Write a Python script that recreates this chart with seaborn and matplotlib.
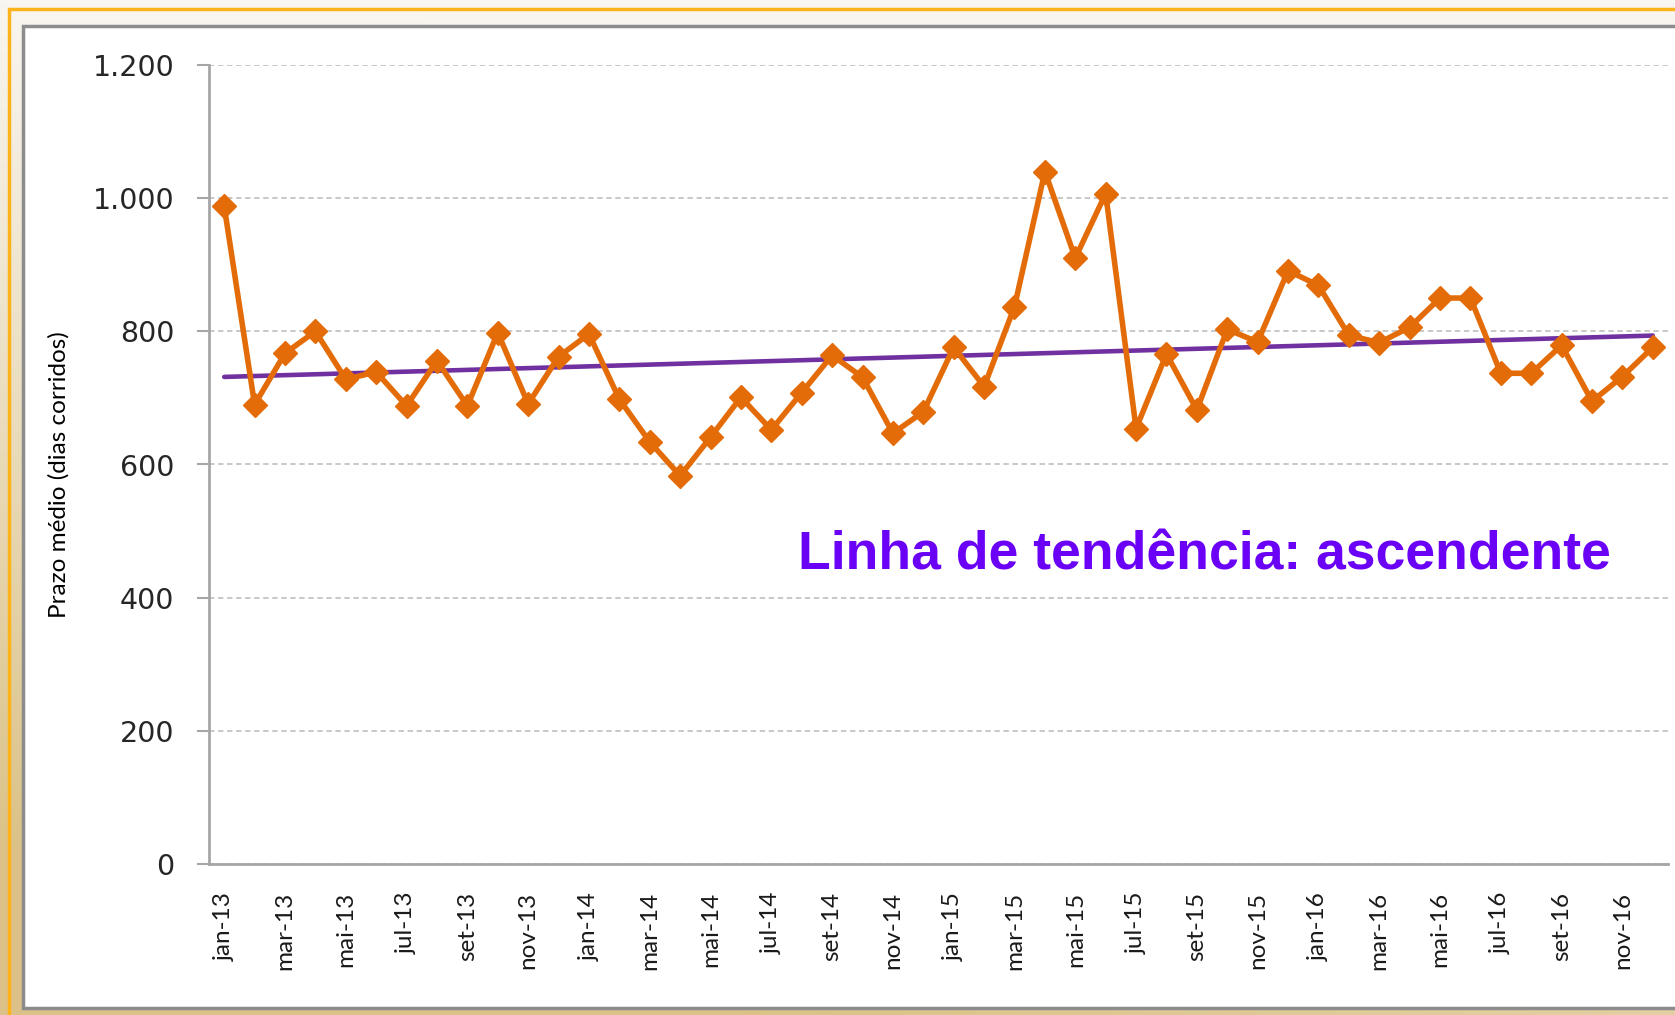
import numpy as np
import pandas as pd
import matplotlib.pyplot as plt
import seaborn as sns
from matplotlib.patches import Rectangle

# Prazo medio mensal (dias corridos), jan-13 .. dez-16
months = ["jan", "fev", "mar", "abr", "mai", "jun", "jul", "ago", "set", "out", "nov", "dez"]
years = ["13", "14", "15", "16"]
prazo_2013 = [988, 690, 767, 800, 728, 739, 688, 756, 688, 798, 691, 762]
prazo_2014 = [796, 698, 634, 583, 641, 701, 652, 708, 764, 731, 647, 679]
prazo_2015 = [776, 717, 837, 1040, 910, 1007, 654, 766, 682, 803, 784, 891]
prazo_2016 = [869, 794, 783, 806, 850, 850, 737, 737, 779, 695, 732, 776]

y_ticks = [0, 200, 400, 600, 800, 1000, 1200]
y_tick_labels = ["0", "200", "400", "600", "800", "1.000", "1.200"]

month_labels = [m + "-" + y for y in years for m in months]
prazo = prazo_2013 + prazo_2014 + prazo_2015 + prazo_2016
df = pd.DataFrame({"mes": month_labels, "idx": np.arange(len(prazo)), "prazo": prazo})

orange = "#E36C09"
purple = "#7030A0"

sns.set_style("white")
plt.rcParams["font.family"] = ["Lato", "DejaVu Sans"]

W, H = 1675, 1015
fig = plt.figure(figsize=(W / 100, H / 100), dpi=100)

# background frame gradient
bg = fig.add_axes([0, 0, 1, 1], zorder=-10)
gx = np.linspace(0, 1, 256)
gy = np.linspace(0, 1, 256)
GX, GY = np.meshgrid(gx, gy)
t = np.clip(0.75 * GY + 0.45 * (1 - GX) * GY, 0, 1)
c0 = np.array([0.975, 0.965, 0.945])
c1 = np.array([0.86, 0.76, 0.53])
img = c0[None, None, :] * (1 - t[..., None]) + c1[None, None, :] * t[..., None]
bg.imshow(img, extent=[0, 1, 0, 1], aspect="auto", origin="upper")
bg.set_axis_off()

# orange frame line and white panel
fig.add_artist(Rectangle((9 / W, -0.1), 1.2, 1 - 9 / H + 0.1, transform=fig.transFigure,
                         facecolor="none", edgecolor="#FFB31A", lw=2.5, zorder=-5))
fig.add_artist(Rectangle((23 / W, 1 - 1008 / H), 1.2, (1008 - 26) / H, transform=fig.transFigure,
                         facecolor="white", edgecolor="#8C8C8C", lw=2.5, zorder=-4))

ax = fig.add_axes([209 / W, 1 - 864 / H, (1668 - 209) / W, (864 - 65) / H])
ax.set_facecolor("none")

sns.regplot(data=df, x="idx", y="prazo", scatter=False, ci=None, truncate=True, ax=ax,
            line_kws=dict(color=purple, lw=3.3, zorder=2))
sns.lineplot(data=df, x="idx", y="prazo", ax=ax, color=orange, lw=4, marker="D",
             markersize=12.5, markeredgecolor=orange, markeredgewidth=1, zorder=3)

ax.set_xlim(-0.5, len(prazo) - 0.5)
ax.set_ylim(0, 1200)
ax.set_yticks(y_ticks)
ax.set_yticklabels(y_tick_labels, family=["DejaVu Sans"])
ax.set_xticks(df["idx"][::2])
ax.set_xticklabels(df["mes"][::2], rotation=90)
ax.set_xticks(np.arange(-0.5, len(prazo), 2), minor=True)

ax.tick_params(axis="x", which="major", length=0, pad=20, labelsize=17.5, labelcolor="#1a1a1a")
ax.tick_params(axis="x", which="minor", length=9, width=1.5, color="#A6A6A6", direction="out")
ax.tick_params(axis="y", length=9, width=1.5, color="#A6A6A6", pad=16, labelsize=20.5,
               labelcolor="#262626", left=True)

ax.yaxis.grid(True, color="#C4C4C4", ls=(0, (3, 2)), lw=1.3)
ax.xaxis.grid(False)
for s in ["top", "right"]:
    ax.spines[s].set_visible(False)
for s in ["left", "bottom"]:
    ax.spines[s].set_color("#A6A6A6")
    ax.spines[s].set_linewidth(2)

ax.set_xlabel("")
ax.set_ylabel("Prazo médio (dias corridos)", fontsize=17.5, color="black")
ax.yaxis.label.set_va("center")
ax.yaxis.set_label_coords(-0.103, 0.487)

ax.text(0.682, 0.386, "Linha de tendência: ascendente", transform=ax.transAxes,
        ha="center", va="center", fontsize=38.5, fontweight="bold", color="#6A00F5",
        family=["Liberation Sans", "DejaVu Sans"])

fig.savefig("out.png", dpi=100)
